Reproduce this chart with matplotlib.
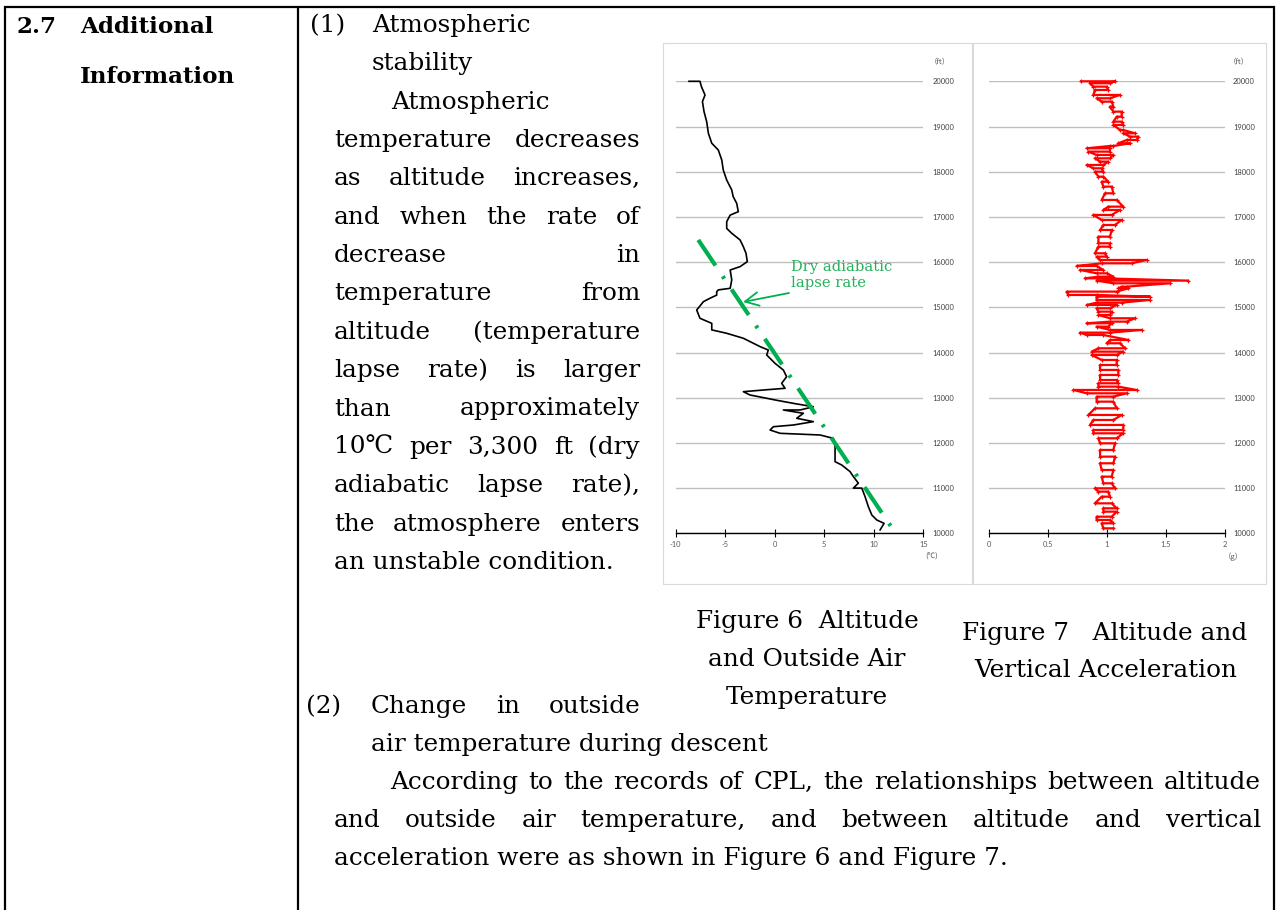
import matplotlib
matplotlib.use('Agg')
import matplotlib.pyplot as plt
from matplotlib.patches import Rectangle

# ---------------- data ----------------
# Figure 6: outside air temperature (deg C) vs altitude (ft)
temp_alt = [20000, 20000, 19880, 19697, 19550, 19330, 19105, 18850, 18630, 18480, 18260,
            18040, 17815, 17595, 17450, 17300, 17115, 17040, 16895, 16745, 16637, 16490,
            16340, 16195, 16010, 15900, 15825, 15605, 15420, 15385, 15345, 15270, 15235,
            15200, 15125, 14940, 14757, 14645, 14500, 14425, 14315, 14130, 14055, 13945,
            13760, 13612, 13465, 13318, 13208, 13170, 13133, 13060, 12987, 12950, 12875,
            12800, 12728, 12728, 12655, 12545, 12470, 12396, 12358, 12285, 12212, 12175,
            12100, 11915, 11695, 11585, 11510, 11365, 11255, 11110, 11000, 11000, 10810,
            10590, 10405, 10295, 10220, 10075]
temp_c = [-8.66, -7.55, -7.40, -7.04, -7.30, -7.14, -6.87, -6.70, -6.36, -5.70, -5.35,
          -5.20, -4.85, -4.34, -4.20, -3.84, -3.68, -4.50, -4.85, -4.85, -4.34, -3.50,
          -3.17, -2.90, -2.77, -3.50, -4.50, -4.34, -4.50, -5.70, -5.86, -5.86, -6.20,
          -6.54, -7.20, -7.88, -7.55, -6.36, -6.36, -4.85, -3.17, -1.48, -0.65, -0.81,
          0.03, 0.87, 1.20, 0.70, 1.04, -1.15, -3.17, -2.50, -0.81, 0.03, 1.88,
          3.90, 2.56, 0.87, 2.89, 2.22, 3.90, 1.88, -0.14, -0.47, 0.54, 4.58,
          5.92, 6.09, 6.09, 6.09, 6.77, 7.60, 7.94, 8.44, 7.94, 8.79, 9.12,
          9.45, 9.80, 10.30, 11.04, 10.64]

# dry adiabatic lapse rate reference line
lapse_temp = [-7.72, 11.82]
lapse_alt = [16490, 10125]

# Figure 7: vertical acceleration (g) vs altitude (ft): per altitude, left / right extent
acc_alt = [20000, 19956, 19882, 19808, 19698, 19624, 19550, 19440, 19329, 19218, 19108,
           19034, 18923, 18850, 18776, 18702, 18628, 18569, 18518, 18444, 18370, 18296,
           18223, 18149, 18075, 18001, 17891, 17780, 17670, 17522, 17375, 17227, 17153,
           17043, 16932, 16821, 16711, 16563, 16416, 16342, 16195, 16121, 16047, 15973,
           15914, 15826, 15752, 15678, 15641, 15590, 15531, 15457, 15420, 15347, 15273,
           15236, 15162, 15103, 15052, 14978, 14904, 14830, 14757, 14683, 14646, 14572,
           14499, 14440, 14388, 14277, 14204, 14093, 14019, 13945, 13835, 13724, 13614,
           13503, 13392, 13319, 13245, 13171, 13097, 13024, 12913, 12765, 12618, 12507,
           12397, 12286, 12212, 12102, 11991, 11844, 11696, 11549, 11401, 11254, 11106,
           10995, 10922, 10811, 10663, 10553, 10479, 10368, 10295, 10221, 10110]
acc_min = [0.780, 0.856, 0.884, 0.898, 0.884, 0.912, 0.955, 1.025, 1.054, 1.082, 1.054,
           1.054, 1.110, 1.138, 1.195, 1.167, 1.096, 1.025, 0.828, 0.842, 0.912, 0.898,
           0.941, 0.828, 0.884, 0.898, 0.927, 0.955, 0.969, 0.983, 0.955, 1.011, 0.969,
           0.884, 0.955, 0.969, 0.941, 0.927, 0.927, 0.927, 0.898, 0.912, 0.941, 0.955,
           0.743, 0.771, 0.912, 0.927, 0.814, 0.912, 1.054, 1.124, 1.096, 0.658, 0.672,
           0.912, 0.912, 0.912, 0.828, 0.912, 0.927, 0.927, 1.025, 1.025, 0.828, 0.912,
           1.025, 0.771, 0.828, 1.025, 0.997, 0.927, 0.870, 0.870, 0.955, 0.941, 0.941,
           0.941, 0.941, 0.927, 0.927, 0.715, 0.828, 0.912, 0.912, 0.898, 0.842, 0.884,
           0.856, 0.884, 0.884, 0.927, 0.941, 0.941, 0.941, 0.941, 0.955, 0.955, 0.969,
           0.898, 0.927, 0.955, 0.898, 0.969, 0.969, 0.912, 0.912, 0.955, 0.969]
acc_max = [1.068, 1.025, 0.997, 1.011, 1.110, 1.025, 1.040, 1.054, 1.124, 1.124, 1.124,
           1.138, 1.138, 1.237, 1.266, 1.251, 1.195, 1.054, 1.025, 1.025, 1.054, 1.025,
           1.011, 0.969, 0.955, 0.969, 0.969, 1.011, 1.040, 1.054, 1.082, 1.138, 1.110,
           1.040, 1.124, 1.068, 1.040, 1.025, 1.025, 1.025, 0.983, 0.997, 1.336, 1.209,
           0.912, 0.969, 0.997, 1.054, 0.969, 1.689, 1.534, 1.167, 1.181, 1.082, 0.912,
           1.364, 1.364, 1.124, 1.082, 1.025, 1.040, 1.025, 1.237, 1.167, 1.040, 1.011,
           1.294, 1.025, 0.969, 1.181, 1.110, 1.153, 1.138, 1.082, 1.082, 1.082, 1.096,
           1.096, 1.082, 1.096, 1.096, 1.251, 1.167, 1.054, 1.054, 1.082, 1.124, 1.054,
           1.138, 1.138, 1.138, 1.082, 1.068, 1.054, 1.068, 1.054, 1.054, 1.040, 1.040,
           1.068, 1.011, 1.025, 1.040, 1.082, 1.082, 1.040, 1.025, 1.054, 1.054]

alt_ticks = [10000, 11000, 12000, 13000, 14000, 15000, 16000, 17000, 18000, 19000, 20000]
temp_ticks = [-10, -5, 0, 5, 10, 15]
temp_ticklabels = ['-10', '-5', '0', '5', '10', '15']
acc_ticks = [0, 0.5, 1, 1.5, 2]
acc_ticklabels = ['0', '0.5', '1', '1.5', '2']

# ---------------- figure ----------------
W, H = 1276, 910
fig = plt.figure(figsize=(W / 100, H / 100), dpi=100)
fig.patch.set_facecolor('white')

GRID = '#BFBFBF'
TICKC = '#595959'
GREEN = '#00B050'
TICKFONT = 'Lato'
CJK = ['Noto Sans CJK JP', 'DejaVu Sans']


def chart_axes(x0, x1):
    y_top, y_bot = 81.3, 533.3
    ax = fig.add_axes([x0 / W, 1 - y_bot / H, (x1 - x0) / W, (y_bot - y_top) / H])
    ax.set_facecolor('none')
    for s in ('top', 'left', 'right'):
        ax.spines[s].set_visible(False)
    ax.spines['bottom'].set_color('black')
    ax.spines['bottom'].set_linewidth(1.0)
    ax.set_ylim(10000, 20000)
    ax.set_yticks(alt_ticks)
    ax.set_yticklabels([str(v) for v in alt_ticks])
    ax.yaxis.tick_right()
    ax.grid(axis='y', color=GRID, lw=1.0)
    ax.set_axisbelow(True)
    ax.tick_params(axis='y', length=0, labelsize=5.4, labelcolor='#404040')
    ax.tick_params(axis='x', direction='inout', length=6, width=0.8, color='black',
                   labelsize=5.4, labelcolor=TICKC, pad=2.5)
    for lab in ax.get_xticklabels() + ax.get_yticklabels():
        lab.set_fontfamily(TICKFONT)
    return ax


# Figure 6
ax6 = chart_axes(675.7, 923.3)
ax6.set_xlim(-10, 15)
ax6.set_xticks(temp_ticks)
ax6.set_xticklabels(temp_ticklabels, fontfamily=TICKFONT)
ax6.tick_params(axis='y', pad=6.5)
ax6.plot(temp_c, temp_alt, color='black', lw=1.2, clip_on=False, zorder=3)
ax6.plot(lapse_temp, lapse_alt, color=GREEN, lw=3, ls=(0, (7.4, 3.1, 0.7, 3.1)),
         clip_on=False, zorder=4)

# Figure 7
ax7 = chart_axes(989.0, 1225.0)
ax7.set_xlim(0, 2)
ax7.set_xticks(acc_ticks)
ax7.set_xticklabels(acc_ticklabels, fontfamily=TICKFONT)
ax7.tick_params(axis='y', pad=5.8)
zz_g, zz_a = [], []
for i, (a, lo, hi) in enumerate(zip(acc_alt, acc_min, acc_max)):
    pair = (lo, hi) if i % 2 == 0 else (hi, lo)
    zz_g.extend(pair)
    zz_a.extend([a, a])
ax7.plot(zz_g, zz_a, color='#FF0000', lw=1.6, marker='+', ms=3.2, mew=0.9,
         clip_on=False, zorder=3)

# ---------------- overlay for page text ----------------
ov = fig.add_axes([0, 0, 1, 1])
ov.set_xlim(0, W)
ov.set_ylim(H, 0)
ov.axis('off')
ov.set_facecolor('none')
renderer = fig.canvas.get_renderer()

SERIF = ['DejaVu Serif', 'DejaVu Sans']


def text_width(s, size, weight='normal', family=SERIF):
    t = ov.text(0, 0, s, fontsize=size, fontweight=weight, family=family)
    w = t.get_window_extent(renderer).width
    t.remove()
    return w


def fit(s, target, weight='normal'):
    return 10 * target / text_width(s, 10, weight)


BODY = fit('acceleration were as shown in Figure 6 and Figure 7.', 677)
BOLD = fit('Additional', 134, 'bold')


def put(x, y, s, size=None, ha='left', weight='normal', color='black', family=SERIF):
    ov.text(x, y, s, fontsize=size or BODY, ha=ha, va='baseline', fontweight=weight,
            color=color, family=family)


def justify(line, x0, x1, y, size=None):
    size = size or BODY
    words = line.split()
    ws = [text_width(w, size) for w in words]
    gap = (x1 - x0 - sum(ws)) / (len(words) - 1)
    x = x0
    for w, wd in zip(words, ws):
        put(x, y, w, size)
        x += wd + gap


# table borders
ov.plot([4, 1275], [7, 7], color='black', lw=1.6, solid_capstyle='butt')
for xb in (5, 297.5, 1274):
    ov.plot([xb, xb], [6, H], color='black', lw=1.6, solid_capstyle='butt')

# chart frames
ov.add_patch(Rectangle((663, 43), 972 - 663, 584 - 43, fill=False, ec='#D9D9D9', lw=0.8))
ov.add_patch(Rectangle((973, 43), 1266 - 973, 584 - 43, fill=False, ec='#D9D9D9', lw=0.8))

# left column heading
put(16, 33, '2.7', BOLD, weight='bold')
put(80, 33, 'Additional', BOLD, weight='bold')
put(80, 83, 'Information', BOLD, weight='bold')

# paragraph (1)
LS = 38.35
b0 = 32
put(310, b0, '(1)')
put(372, b0, 'Atmospheric')
put(372, b0 + LS, 'stability')
put(391, b0 + 2 * LS, 'Atmospheric')
just_lines = ['temperature decreases', 'as altitude increases,', 'and when the rate of',
              'decrease in', 'temperature from', 'altitude (temperature',
              'lapse rate) is larger', 'than approximately', '10\u2103 per 3,300 ft (dry',
              'adiabatic lapse rate),', 'the atmosphere enters']
for i, ln in enumerate(just_lines):
    justify(ln, 334, 640, b0 + (3 + i) * LS)
put(334, b0 + 14 * LS, 'an unstable condition.')

# paragraph (2)
p2 = 713
put(306, p2, '(2)')
justify('Change in outside', 371, 640, p2)
put(371, p2 + 38, 'air temperature during descent')
justify('According to the records of CPL, the relationships between altitude', 390, 1261, p2 + 76)
justify('and outside air temperature, and between altitude and vertical', 334, 1261, p2 + 114)
put(334, p2 + 152, 'acceleration were as shown in Figure 6 and Figure 7.')

# captions
put(807, 628, 'Figure 6  Altitude', ha='center')
put(807, 666, 'and Outside Air', ha='center')
put(807, 704, 'Temperature', ha='center')
put(1105, 640, 'Figure 7   Altitude and', ha='center')
put(1106, 677, 'Vertical Acceleration', ha='center')

# unit labels
for x, y, s in [(940, 62, '\uff08ft\uff09'), (1239, 62, '\uff08ft\uff09'),
                (932, 557, '(\u2103)'), (1233, 557, '\uff08g\uff09')]:
    ov.text(x, y, s, fontsize=5.4, color=TICKC, ha='center', va='center', family=CJK)

# dry adiabatic annotation
ANN = fit('Dry adiabatic', 101)
put(791, 271.5, 'Dry adiabatic', ANN, color='#22B35A')
put(791, 286.5, 'lapse rate', ANN, color='#22B35A')
ov.annotate('', xy=(743, 302), xytext=(789, 293),
            arrowprops=dict(arrowstyle='->,head_length=0.7,head_width=0.35', color=GREEN,
                            lw=1.3, shrinkA=0, shrinkB=0, mutation_scale=14))

fig.savefig('out.png', dpi=100, facecolor='white')
